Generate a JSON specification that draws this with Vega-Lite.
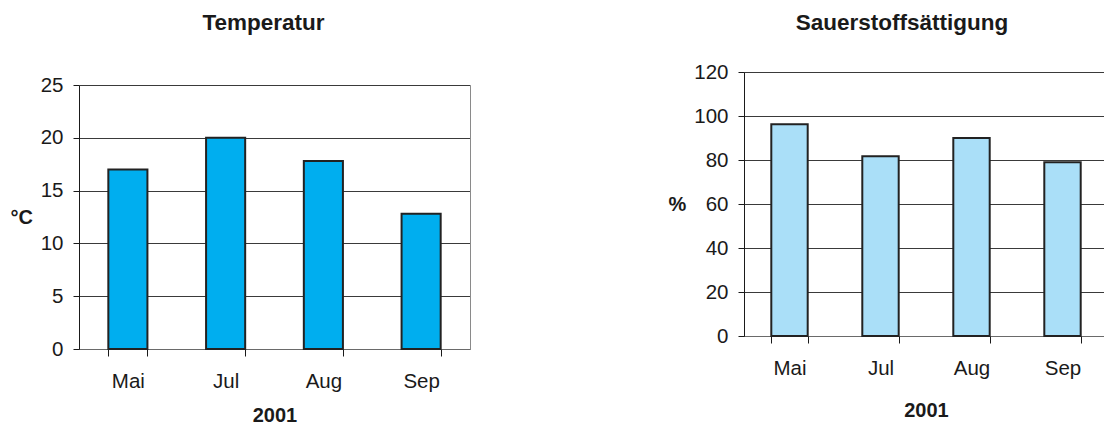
{
  "$schema": "https://vega.github.io/schema/vega-lite/v6.json",
  "padding": {"left": 10, "top": 11, "right": -4, "bottom": -1},
  "spacing": 197,
  "background": "white",
  "config": {
    "view": {"stroke": "#8a8a8a", "strokeWidth": 1},
    "font": "Liberation Sans",
    "axis": {
      "labelFont": "Liberation Sans", "titleFont": "Liberation Sans",
      "labelColor": "#1a1a1a", "titleColor": "#1a1a1a",
      "domainColor": "#1a1a1a", "tickColor": "#1a1a1a", "gridColor": "#3a3a3a",
      "gridOpacity": 1, "labelFontSize": 20.5, "titleFontSize": 20, "titleFontWeight": "bold"
    },
    "axisX": {"domainColor": "#6a6a6a"},
    "title": {"font": "Liberation Sans", "fontWeight": "bold", "color": "#1a1a1a", "baseline": "alphabetic", "anchor": "middle", "frame": "group", "fontSize": 22.5}
  },
  "hconcat": [
    {
      "width": 391,
      "height": 277,
      "view": {"stroke": null},
      "title": {"text": "Temperatur", "offset": 37.6, "dx": -11},
      "data": {"values": [
        {"Monat": "Mai", "Temperatur": 17.0},
        {"Monat": "Jul", "Temperatur": 20.0},
        {"Monat": "Aug", "Temperatur": 17.8},
        {"Monat": "Sep", "Temperatur": 12.8}
      ]},
      "layer": [
        {
          "mark": {"type": "bar", "fill": "#00AEEF", "stroke": "#222222", "strokeWidth": 2},
          "encoding": {
            "x": {"field": "Monat", "type": "nominal", "sort": null,
              "scale": {"paddingInner": 0.6, "paddingOuter": 0.3},
              "axis": {"title": "2001", "labelAngle": 0, "tickBand": "extent", "tickSize": 7,
                "labelBaseline": "alphabetic", "labelPadding": 31,
                "titleBaseline": "alphabetic", "titleY": 72, "grid": false}},
            "y": {"field": "Temperatur", "type": "quantitative",
              "scale": {"domain": [0, 25], "nice": false, "range": [277, 13]},
              "axis": {"values": [0, 5, 10, 15, 20, 25], "title": "°C", "titleAngle": 0,
                "titleAlign": "left", "titleBaseline": "middle", "titleX": -69, "titleY": 145,
                "tickSize": 6, "labelPadding": 10, "grid": true}}
          }
        },
        {
          "mark": {"type": "bar", "opacity": 0},
          "encoding": {
            "x": {"field": "Monat", "type": "nominal", "sort": null},
            "y": {"field": "Temperatur", "type": "quantitative",
              "axis": {"title": null, "labels": false, "ticks": false, "grid": false, "domainColor": "#8a8a8a"}}
          }
        }
      ],
      "resolve": {"axis": {"y": "independent"}}
    },
    {
      "width": 364,
      "height": 264,
      "title": {"text": "Sauerstoffsättigung", "offset": 28, "dx": -24},
      "data": {"values": [
        {"Monat": "Mai", "Saettigung": 96.2},
        {"Monat": "Jul", "Saettigung": 81.7},
        {"Monat": "Aug", "Saettigung": 90.0},
        {"Monat": "Sep", "Saettigung": 79.0}
      ]},
      "mark": {"type": "bar", "fill": "#AADFF8", "stroke": "#222222", "strokeWidth": 2},
      "encoding": {
        "x": {"field": "Monat", "type": "nominal", "sort": null,
          "scale": {"paddingInner": 0.6, "paddingOuter": 0.3},
          "axis": {"title": "2001", "labelAngle": 0, "tickBand": "extent", "tickSize": 7,
            "labelBaseline": "alphabetic", "labelPadding": 31,
            "titleBaseline": "alphabetic", "titleY": 80, "grid": false}},
        "y": {"field": "Saettigung", "type": "quantitative",
          "scale": {"domain": [0, 120], "nice": false},
          "axis": {"values": [0, 20, 40, 60, 80, 100, 120], "title": "%", "titleAngle": 0,
            "titleAlign": "left", "titleBaseline": "middle", "titleX": -76, "titleY": 132,
            "tickSize": 6, "labelPadding": 10, "grid": true}}
      }
    }
  ]
}
